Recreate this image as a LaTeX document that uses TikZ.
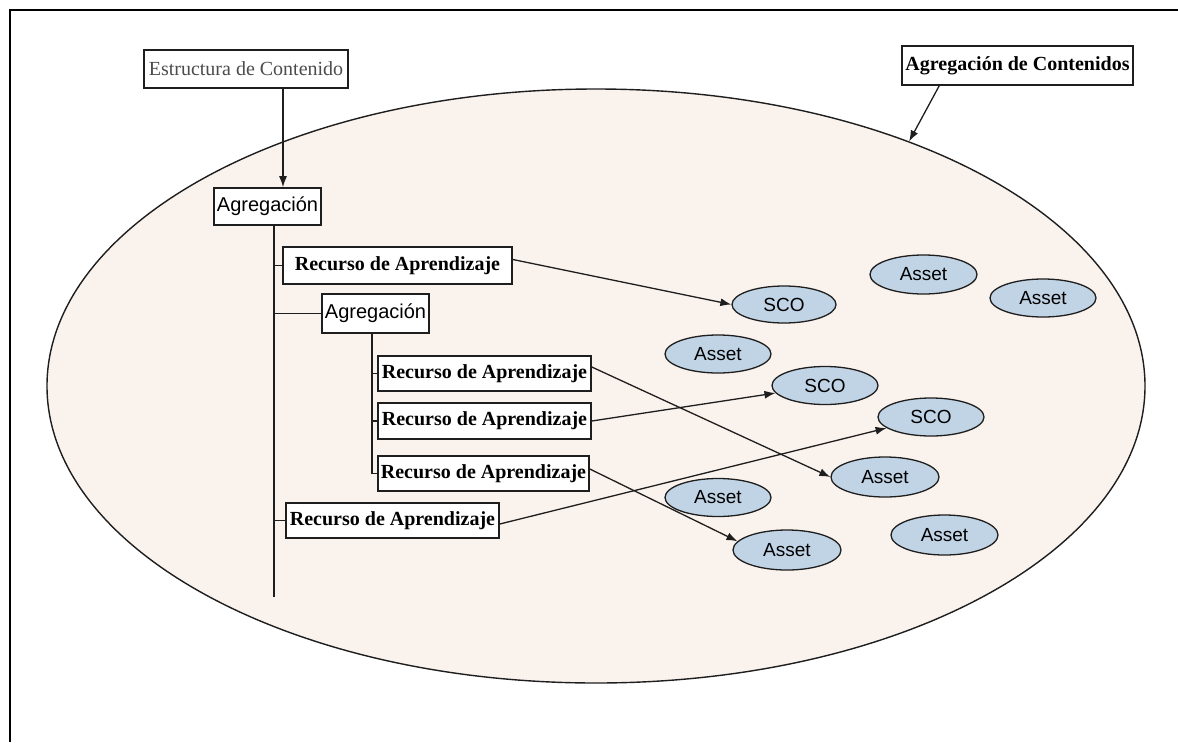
\documentclass[tikz,border=0pt]{standalone}
\usepackage{fontspec}
\setmainfont{Liberation Serif}
\newfontfamily\arialfont{Liberation Sans}
\usetikzlibrary{shapes.geometric,arrows.meta}
\definecolor{aggfill}{RGB}{250,242,237}
\definecolor{assetfill}{RGB}{193,212,230}
\definecolor{edge}{RGB}{30,30,30}
\begin{document}
\begin{tikzpicture}[x=1pt,y=-1pt,
  box/.style={draw=edge,line width=1.6pt,fill=white,inner sep=0pt,
    font=\fontsize{20}{24}\selectfont},
  resbox/.style={box,font=\fontsize{20}{24}\selectfont\bfseries},
  aggbox/.style={box,font=\arialfont\fontsize{20}{24}\selectfont},
  leaf/.style={ellipse,draw=edge,line width=1.3pt,fill=assetfill,inner sep=0pt,
    minimum width=106pt,minimum height=38pt,font=\arialfont\fontsize{19}{21}\selectfont},
  tree/.style={draw=edge,line width=1.7pt},
  link/.style={draw=edge,line width=1.3pt,-{Latex[length=11pt,width=8pt]}}]
\useasboundingbox (0,0) rectangle (1178,742);
% outer frame (top and left edges)
\draw[line width=2.4pt,black] (10,742) -- (10,10) -- (1178,10);

% content aggregation
\node[ellipse,draw=edge,line width=1.4pt,fill=aggfill,inner sep=0pt,
  minimum width=1098pt,minimum height=594pt] (agg) at (596,386) {};

\node[box,minimum width=204pt,minimum height=38pt,text=black!70] (estr) at (246,69) {Estructura de Contenido};
\node[resbox,minimum width=231pt,minimum height=39pt] (agcont) at (1017.5,65.5) {Agregación de Contenidos};
\draw[link] (agcont.south west) ++(38,0) coordinate (agtail) (agtail) -- (agg.38);

% tree of aggregations and resources
\node[aggbox,minimum width=107pt,minimum height=37pt] (agr1) at (267.5,206.5) {Agregación};
\node[resbox,minimum width=229pt,minimum height=37pt] (r1) at (397.5,265.5) {Recurso de Aprendizaje};
\node[aggbox,minimum width=107pt,minimum height=39pt] (agr2) at (375.5,313.5) {Agregación};
\node[resbox,minimum width=213pt,minimum height=35pt] (r2) at (484.5,373.5) {Recurso de Aprendizaje};
\node[resbox,minimum width=213pt,minimum height=36pt] (r3) at (484.5,421) {Recurso de Aprendizaje};
\node[resbox,minimum width=211pt,minimum height=35pt] (r4) at (483.5,473.5) {Recurso de Aprendizaje};
\node[resbox,minimum width=213pt,minimum height=35pt] (r5) at (392.5,520.5) {Recurso de Aprendizaje};

\coordinate (drop) at (283,0);
\draw[link] (drop |- estr.south) -- (drop |- agr1.north);

\coordinate (trunk) at (274,597);
\draw[tree] (agr1.south -| trunk) -- (trunk);
\draw[tree] (r1.west -| trunk) -- (r1.west);
\draw[tree] (agr2.west -| trunk) -- (agr2.west);
\draw[tree] (r5.west -| trunk) -- (r5.west);

\coordinate (sub) at (372,0);
\draw[tree] (agr2.south -| sub) -- (r4.west -| sub);
\draw[tree] (r2.west -| sub) -- (r2.west);
\draw[tree] (r3.west -| sub) -- (r3.west);
\draw[tree] (r4.west -| sub) -- (r4.west);

% SCOs and assets
\node[leaf,minimum width=107pt,minimum height=39pt] (a1) at (923.5,274.5) {Asset};
\node[leaf] (a2) at (1043,298) {Asset};
\node[leaf,minimum width=104pt,minimum height=37pt] (s1) at (784,304.5) {SCO};
\node[leaf] (a3) at (718,354) {Asset};
\node[leaf] (s2) at (825,385.5) {SCO};
\node[leaf] (s3) at (931,417) {SCO};
\node[leaf,minimum width=108pt,minimum height=40pt] (a4) at (885,477) {Asset};
\node[leaf] (a5) at (718,497.5) {Asset};
\node[leaf,minimum width=107pt,minimum height=40pt] (a6) at (944.5,535) {Asset};
\node[leaf,minimum width=108pt,minimum height=40pt] (a7) at (787,550) {Asset};

% resources pointing to their SCOs and assets
\draw[link] ([yshift=6pt]r1.east) -- (s1.west);
\draw[link] ([yshift=6.5pt]r2.east) -- (a4.west);
\draw[link] (r3.east) -- (s2);
\draw[link] ([yshift=4.5pt]r4.east) -- (a7.170);
\draw[link] ([yshift=-3.5pt]r5.east) -- (s3);
\end{tikzpicture}
\end{document}
